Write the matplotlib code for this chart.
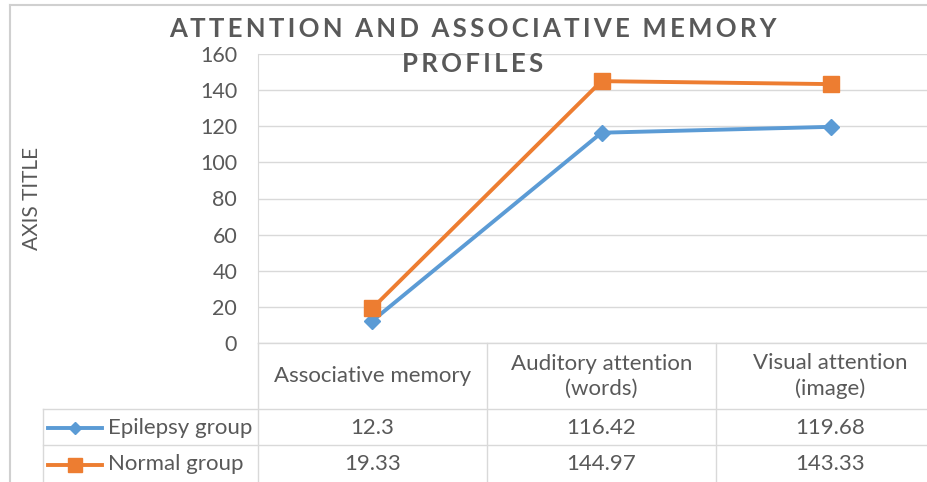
import matplotlib
matplotlib.use("Agg")
import matplotlib.pyplot as plt
from matplotlib.transforms import blended_transform_factory
from matplotlib.lines import Line2D

categories = ["Associative memory", "Auditory attention\n(words)", "Visual attention\n(image)"]
series_names = ["Epilepsy group", "Normal group"]
epilepsy = [12.3, 116.42, 119.68]
normal = [19.33, 144.97, 143.33]
yticks = [0, 20, 40, 60, 80, 100, 120, 140, 160]

colors = ["#5B9BD5", "#ED7D31"]
markers = ["D", "s"]
msizes = [8, 12]
text_col = "#595959"
grid_col = "#D9D9D9"
plt.rcParams['font.family'] = ['Lato', 'DejaVu Sans']

W, H = 928, 482
fig = plt.figure(figsize=(W / 100, H / 100), dpi=100)

x0, x1, ytop, ybot = 258, 945, 54, 343
ax = fig.add_axes([x0 / W, (H - ybot) / H, (x1 - x0) / W, (ybot - ytop) / H])
xs = list(range(len(categories)))
for vals, c, m, ms, name in zip([epilepsy, normal], colors, markers, msizes, series_names):
    ax.plot(xs, vals, color=c, lw=2.8, marker=m, markersize=ms, label=name, zorder=3)
ax.set_xlim(-0.5, len(categories) - 0.5)
ax.set_ylim(0, 160)
ax.set_yticks(yticks)
ax.set_xticks([])
ax.tick_params(axis='y', length=0, labelsize=15.5, labelcolor=text_col, pad=15)
ax.grid(axis='y', color=grid_col, lw=1)
for s in ["top", "right", "bottom"]:
    ax.spines[s].set_visible(False)
ax.spines["left"].set_color(grid_col)
ax.set_axisbelow(True)

# outer chart border (left and top)
fig.add_artist(Line2D([10 / W, 10 / W], [0, 1 - 5 / H], transform=fig.transFigure, color="#D0D0D0", lw=1.5))
fig.add_artist(Line2D([10 / W, 1], [1 - 5 / H, 1 - 5 / H], transform=fig.transFigure, color="#D0D0D0", lw=1.5))

# title
def spaced(s):
    return "  ".join("\u2009".join(w) for w in s.split(" "))

fig.text(473 / W, 1 - 29 / H, spaced("ATTENTION AND ASSOCIATIVE MEMORY"),
         ha="center", va="center", fontsize=18.5, fontweight="bold", color=text_col)
fig.text(473 / W, 1 - 64 / H, spaced("PROFILES"),
         ha="center", va="center", fontsize=18.5, fontweight="bold", color=text_col)

# axis title
fig.text(32 / W, 1 - 198 / H, "AXIS TITLE", rotation=90, ha="center", va="center",
         fontsize=15, color=text_col)

# data table
tr = blended_transform_factory(ax.transData, fig.transFigure)
def fy(py):
    return 1 - py / H

row_h = [343, 409, 445, 482]
edges = [i - 0.5 for i in range(len(categories) + 1)]
for py in [409, 445]:
    fig.add_artist(Line2D([43 / W, 1], [fy(py), fy(py)], transform=fig.transFigure, color=grid_col, lw=1))
fig.add_artist(Line2D([x0 / W, 1], [fy(343), fy(343)], transform=fig.transFigure, color=grid_col, lw=1))
for e in edges[:-1]:
    fig.add_artist(Line2D([e, e], [fy(343), 0], transform=tr, color=grid_col, lw=1))
fig.add_artist(Line2D([43 / W, 43 / W], [fy(409), 0], transform=fig.transFigure, color=grid_col, lw=1))

for i, cat in enumerate(categories):
    fig.text(i, fy((343 + 409) / 2), cat, transform=tr, ha="center", va="center",
             fontsize=16, color=text_col, linespacing=1.3)
    for r, vals in enumerate([epilepsy, normal]):
        fig.text(i, fy((row_h[r + 1] + row_h[r + 2]) / 2 + 1), f"{vals[i]:g}", transform=tr,
                 ha="center", va="center", fontsize=16, color=text_col)

for r, (name, c, m, ms) in enumerate(zip(series_names, colors, markers, msizes)):
    yc = fy((row_h[r + 1] + row_h[r + 2]) / 2 + 1)
    fig.add_artist(Line2D([48 / W, 102 / W], [yc, yc], transform=fig.transFigure, color=c, lw=2.8))
    fig.add_artist(Line2D([75 / W], [yc], transform=fig.transFigure, color=c, marker=m,
                          markersize=ms * 0.8, lw=0))
    fig.text(108 / W, yc, name, ha="left", va="center", fontsize=16, color=text_col)

fig.savefig("out.png", dpi=100)
